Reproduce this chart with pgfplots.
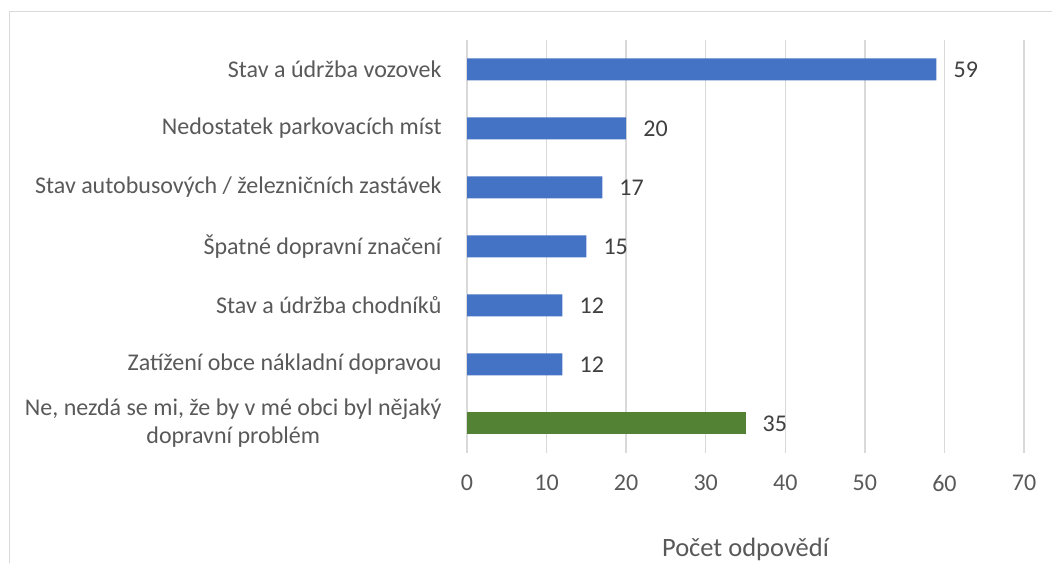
\documentclass[border=0pt]{standalone}
\usepackage{fontspec}
\setmainfont{Carlito}
\usepackage{pgfplots}
\pgfplotsset{compat=1.18}
\definecolor{barblue}{HTML}{4472C4}
\definecolor{bargreen}{HTML}{548235}
\definecolor{gridgray}{HTML}{D9D9D9}
\definecolor{txtgray}{HTML}{595959}
\definecolor{valgray}{HTML}{404040}
\begin{document}
\begin{tikzpicture}
\useasboundingbox (0,0) rectangle (1052bp,563bp);
\draw[gridgray, line width=1.5bp] (9.5bp,0) -- (9.5bp,551.5bp) -- (1052bp,551.5bp);
\begin{axis}[
  at={(467bp,110bp)}, anchor=south west,
  width=557bp, height=413bp, scale only axis,
  xbar, bar width=22bp, bar shift=0pt,
  xmin=0, xmax=70, ymin=-0.5, ymax=6.5,
  xtick={0,10,...,70},
  ytick={0,...,6},
  yticklabels={{Ne, nezdá se mi, že by v mé obci byl nějaký\\dopravní problém},
    {Zatížení obce nákladní dopravou},
    {Stav a údržba chodníků},
    {Špatné dopravní značení},
    {Stav autobusových / železničních zastávek},
    {Nedostatek parkovacích míst},
    {Stav a údržba vozovek}},
  axis line style={draw=none},
  tick style={draw=none},
  xmajorgrids,
  major grid style={gridgray, line width=1.5bp},
  /pgf/number format/assume math mode=true,
  ticklabel style={font=\fontsize{24bp}{28bp}\selectfont, text=txtgray, inner sep=0pt},
  yticklabel style={align=center, anchor=east},
  yticklabel shift=21bp,
  xticklabel style={anchor=north},
  xticklabel shift=22bp,
  xlabel={Počet odpovědí},
  every axis x label/.style={at={(axis description cs:0.5,0)}, anchor=base, yshift=-103bp,
    font=\fontsize{26.5bp}{30bp}\selectfont, text=txtgray},
  nodes near coords,
  nodes near coords style={font=\fontsize{24bp}{28bp}\selectfont, text=valgray, anchor=west, inner sep=0pt, xshift=17bp},
]
\addplot[fill=barblue, draw=none] coordinates {(59,6) (20,5) (17,4) (15,3) (12,2) (12,1)};
\addplot[fill=bargreen, draw=none] coordinates {(35,0)};
\end{axis}
\end{tikzpicture}
\end{document}
